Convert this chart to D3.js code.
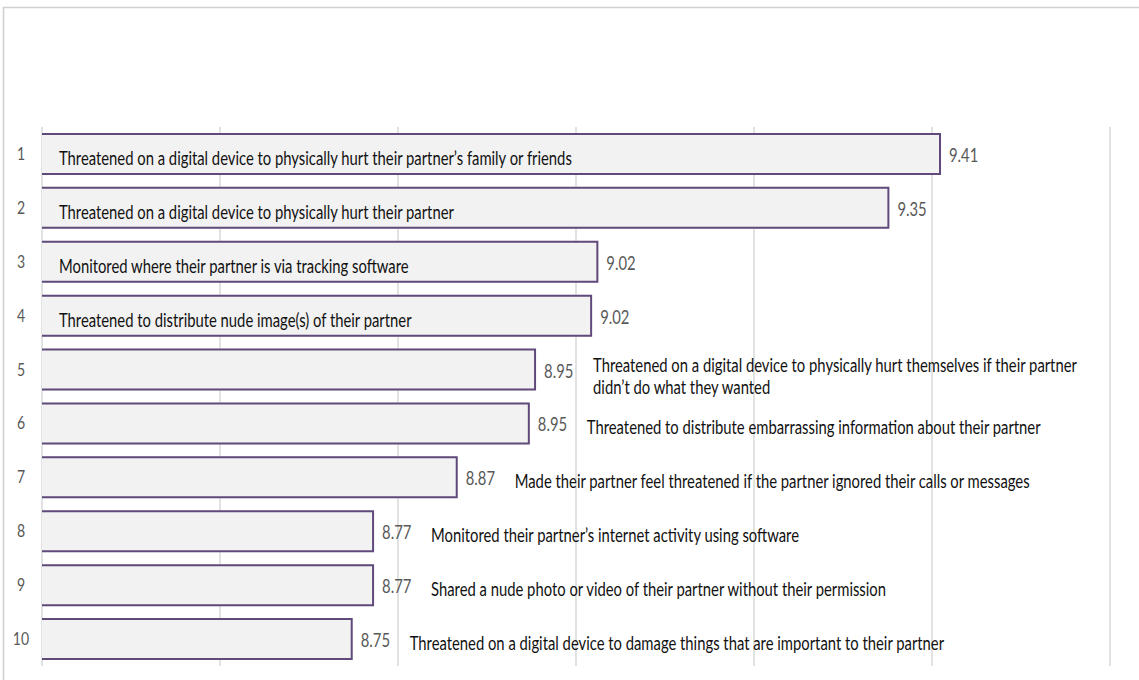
<!DOCTYPE html>
<meta charset="utf-8">
<script src="https://d3js.org/d3.v7.min.js"></script>
<style>
  body { margin: 0; background: #fff; }
  text { font-family: Lato, "Open Sans", sans-serif; }
</style>
<body>
<div id="my_dataviz"></div>
<script>
  // ranks, bar values, shown labels, item texts
  const ranks = [1, 2, 3, 4, 5, 6, 7, 8, 9, 10];
  const values = [9.409, 9.351, 9.024, 9.017, 8.954, 8.947, 8.866, 8.772, 8.772, 8.748];
  const shown = ["9.41", "9.35", "9.02", "9.02", "8.95", "8.95", "8.87", "8.77", "8.77", "8.75"];
  const items = [
    ["Threatened on a digital device to physically hurt their partner’s family or friends"],
    ["Threatened on a digital device to physically hurt their partner"],
    ["Monitored where their partner is via tracking software"],
    ["Threatened to distribute nude image(s) of their partner"],
    ["Threatened on a digital device to physically hurt themselves if their partner", "didn’t do what they wanted"],
    ["Threatened to distribute embarrassing information about their partner"],
    ["Made their partner feel threatened if the partner ignored their calls or messages"],
    ["Monitored their partner’s internet activity using software"],
    ["Shared a nude photo or video of their partner without their permission"],
    ["Threatened on a digital device to damage things that are important to their partner"]
  ];
  const insideCount = 4; // first rows keep their text inside the bar
  const xTicks = [8.4, 8.6, 8.8, 9.0, 9.2, 9.4, 9.6];

  const W = 1139, H = 680;
  const sx = 0.78; // the source picture is squeezed sideways, text looks narrow

  const svg = d3.select("#my_dataviz").append("svg")
    .attr("width", W).attr("height", H);

  // outer frame
  svg.append("path")
    .attr("d", "M3.5,680 V7.5 H1139")
    .attr("fill", "none").attr("stroke", "#d0d0d0").attr("stroke-width", 1.5);

  const x = d3.scaleLinear().domain([8.4, 9.6]).range([42, 1110]);
  const y = d3.scaleBand().domain(ranks).range([127, 666])
    .paddingInner(0.22).paddingOuter(0.11);

  // gridlines
  svg.append("g").selectAll("line").data(xTicks).join("line")
    .attr("x1", d => x(d)).attr("x2", d => x(d))
    .attr("y1", 127).attr("y2", 666)
    .attr("stroke", "#d9d9d9").attr("stroke-width", 1.5);

  const rows = svg.append("g").selectAll("g").data(ranks).join("g")
    .attr("transform", d => `translate(0,${y(d)})`);

  const bw = y.bandwidth();

  rows.append("rect")
    .attr("x", x(8.4)).attr("y", 0)
    .attr("width", (d, i) => x(values[i]) - x(8.4)).attr("height", bw)
    .attr("fill", "#f2f2f2");

  rows.append("path")
    .attr("d", (d, i) => `M${x(8.4)},1 H${x(values[i])} V${bw - 1} H${x(8.4)}`)
    .attr("fill", "none").attr("stroke", "#604a7b").attr("stroke-width", 2);

  // rank numbers
  rows.append("text")
    .attr("transform", `translate(21,27) scale(${sx},1)`)
    .attr("text-anchor", "middle")
    .attr("fill", "#595959").style("font-size", "18px")
    .text(d => d);

  // value labels
  rows.append("text")
    .attr("transform", (d, i) => `translate(${x(values[i]) + 9},29) scale(${sx},1)`)
    .attr("fill", "#595959").style("font-size", "19px")
    .text((d, i) => shown[i]);

  // item texts
  const lab = rows.append("text")
    .attr("fill", "#111").style("font-size", "19px")
    .attr("transform", (d, i) => {
      const tx = i < insideCount ? 59 : x(values[i]) + 58;
      const ty = items[i].length > 1 ? 23 : 32;
      return `translate(${tx},${ty}) scale(${sx},1)`;
    });

  lab.selectAll("tspan").data((d, i) => items[i]).join("tspan")
    .attr("x", 0)
    .attr("dy", (d, j) => j === 0 ? 0 : 22)
    .text(d => d);
</script>
</body>
